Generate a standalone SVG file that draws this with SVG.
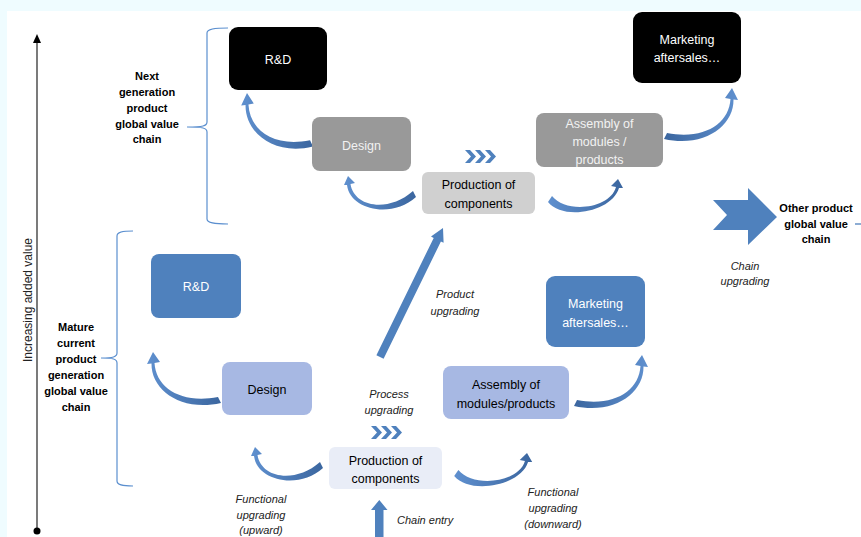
<svg xmlns="http://www.w3.org/2000/svg" xmlns:xlink="http://www.w3.org/1999/xlink" width="861" height="537" viewBox="0 0 861 537">
<style>
.t{font-family:"Liberation Sans",Arial,sans-serif;font-size:12.5px;text-anchor:middle}
.b{font-family:"Liberation Sans",Arial,sans-serif;font-size:11px;font-weight:bold;text-anchor:middle;fill:#000}
.i{font-family:"Liberation Sans",Arial,sans-serif;font-size:11px;font-style:italic;text-anchor:middle;fill:#222}
.w{fill:#ffffff}
.lw{fill:#f2f2f2}
.k{fill:#000}
.brace{fill:none;stroke:#5b8fcf;stroke-width:1.2}
.blue{fill:#4f81bd}
</style>
<defs>
<linearGradient id="cg" x1="0" y1="0" x2="1" y2="0">
<stop offset="0" stop-color="#5f90cf"/>
<stop offset="1" stop-color="#3b669f"/>
</linearGradient>
<path id="tallL" fill="url(#cg)" d="M0,0 L7,10 L1.5,11 C3,36 28,52 65,45 L68,51 C28,60 -2,38 -1.5,11.5 L-6,12 Z"/>
<path id="flatL" fill="url(#cg)" d="M0,0 L7,7 L2.5,8 C6,31 40,37 65,15 L68,21 C44,43 2,34 -1,9 L-4,9 Z"/>
<path id="flatR" fill="url(#cg)" d="M0,0 L5,9 L1,9 C-6,33 -55,42 -70,23 L-66,17 C-52,35 -8,30 -2,8 L-7,7 Z"/>
<g id="chevs" class="blue">
<polygon points="0,0 5,0 11,6.5 5,13 0,13 6,6.5"/>
<polygon points="10,0 15,0 21,6.5 15,13 10,13 16,6.5"/>
<polygon points="20,0 25,0 31,6.5 25,13 20,13 26,6.5"/>
</g>
</defs>

<rect x="0" y="0" width="861" height="537" fill="#effcff"/>
<rect x="7" y="11" width="854" height="526" fill="#ffffff"/>

<g id="axis">
<line x1="37" y1="42" x2="37" y2="531" stroke="#333" stroke-width="1.3"/>
<polygon points="37,34 41,43 33,43" fill="#000"/>
<circle cx="37" cy="531" r="3.5" fill="#000"/>
<text class="t" style="font-size:12px" fill="#222" transform="translate(32,300) rotate(-90)">Increasing added value</text>
</g>

<g id="brace-next">
<path class="brace" d="M228,28 C214,28 207,29 207,33 L207,122 C207,126 203,127 187,127 C203,127 207,128 207,132 L207,219 C207,223 214,224 228,224"/>
<text class="b"><tspan x="147" y="80">Next</tspan><tspan x="147" y="96">generation</tspan><tspan x="147" y="112">product</tspan><tspan x="147" y="128">global value</tspan><tspan x="147" y="143">chain</tspan></text>
</g>
<g id="brace-mature">
<path class="brace" d="M133,231 C122,231 117,232 117,236 L117,353 C117,357 113,358 101,358 C113,358 117,359 117,363 L117,481 C117,485 122,486 133,486"/>
<text class="b"><tspan x="76" y="331">Mature</tspan><tspan x="76" y="347">current</tspan><tspan x="76" y="363">product</tspan><tspan x="76" y="379">generation</tspan><tspan x="76" y="395">global value</tspan><tspan x="76" y="411">chain</tspan></text>
</g>

<g id="connectors">
<use xlink:href="#tallL" transform="translate(247,93) scale(0.97,1.05)"/>
<use xlink:href="#flatL" transform="translate(348,176)"/>
<use xlink:href="#flatR" transform="translate(618,179)"/>
<use xlink:href="#tallL" transform="translate(732,88) scale(-1,1)"/>
<use xlink:href="#tallL" transform="translate(153,352)"/>
<use xlink:href="#flatL" transform="translate(255,447)"/>
<use xlink:href="#flatR" transform="translate(527,453) scale(1.04,1)"/>
<use xlink:href="#tallL" transform="translate(642,355) scale(-1,1)"/>
<use xlink:href="#chevs" transform="translate(465,150)"/>
<use xlink:href="#chevs" transform="translate(371,426)"/>
<polygon class="blue" points="443,228 443.6,242.8 440.9,241.5 383.6,358.8 376.4,355.2 433.7,237.9 431,236.6"/>
<polygon class="blue" points="379.3,500 387.5,510 383.5,510 383.5,537 375,537 375,510 371,510"/>
<polygon class="blue" points="713,200 748,200 748,188 777,217 748,245 748,230 713,230 727,215"/>
<line x1="855" y1="224" x2="861" y2="224" stroke="#4f81bd" stroke-width="1.3"/>
</g>

<g id="rd-next">
<rect x="229" y="27" width="98" height="63" rx="9" fill="#000"/>
<text class="t w" x="278" y="63.5">R&amp;D</text>
</g>
<g id="marketing-next">
<rect x="633" y="12" width="108" height="71" rx="9" fill="#000"/>
<text class="t w"><tspan x="687" y="43.5">Marketing</tspan><tspan x="687" y="61.5">aftersales…</tspan></text>
</g>
<g id="design-next">
<rect x="312" y="117" width="99" height="54" rx="8" fill="#999999"/>
<text class="t lw" x="361.5" y="149.5">Design</text>
</g>
<g id="assembly-next">
<rect x="536" y="113" width="127" height="54" rx="8" fill="#999999"/>
<text class="t lw"><tspan x="599.5" y="127.5">Assembly of</tspan><tspan x="599.5" y="145.5">modules /</tspan><tspan x="599.5" y="163.5">products</tspan></text>
</g>
<g id="production-next">
<rect x="422" y="172" width="113" height="42" rx="6" fill="#d0d0d0"/>
<text class="t k"><tspan x="478.5" y="188.5">Production of</tspan><tspan x="478.5" y="207.5">components</tspan></text>
</g>

<g id="rd-mature">
<rect x="151" y="254" width="90" height="64" rx="8" fill="#4f81bd"/>
<text class="t w" x="196" y="291">R&amp;D</text>
</g>
<g id="marketing-mature">
<rect x="546" y="276" width="99" height="71" rx="9" fill="#4f81bd"/>
<text class="t w"><tspan x="595.5" y="307.5">Marketing</tspan><tspan x="595.5" y="326.5">aftersales…</tspan></text>
</g>
<g id="design-mature">
<rect x="222" y="362" width="90" height="53" rx="8" fill="#a7b8e3"/>
<text class="t k" x="267" y="393.5">Design</text>
</g>
<g id="assembly-mature">
<rect x="443" y="366" width="126" height="53" rx="8" fill="#a7b8e3"/>
<text class="t k"><tspan x="506" y="388.5">Assembly of</tspan><tspan x="506" y="407.5">modules/products</tspan></text>
</g>
<g id="production-mature">
<rect x="329" y="447" width="113" height="42" rx="6" fill="#e9edf7"/>
<text class="t k"><tspan x="385.5" y="464.5">Production of</tspan><tspan x="385.5" y="482.5">components</tspan></text>
</g>

<g id="other-chain">
<text class="b"><tspan x="816" y="212">Other product</tspan><tspan x="816" y="228">global value</tspan><tspan x="816" y="243">chain</tspan></text>
</g>

<g id="labels">
<text class="i"><tspan x="455" y="298">Product</tspan><tspan x="455" y="315">upgrading</tspan></text>
<text class="i"><tspan x="389" y="398">Process</tspan><tspan x="389" y="414">upgrading</tspan></text>
<text class="i"><tspan x="745" y="270">Chain</tspan><tspan x="745" y="285">upgrading</tspan></text>
<text class="i"><tspan x="261" y="503">Functional</tspan><tspan x="261" y="519">upgrading</tspan><tspan x="261" y="534">(upward)</tspan></text>
<text class="i"><tspan x="553" y="496">Functional</tspan><tspan x="553" y="512">upgrading</tspan><tspan x="553" y="528">(downward)</tspan></text>
<text class="i" style="text-anchor:start" x="397" y="524">Chain entry</text>
</g>
</svg>
